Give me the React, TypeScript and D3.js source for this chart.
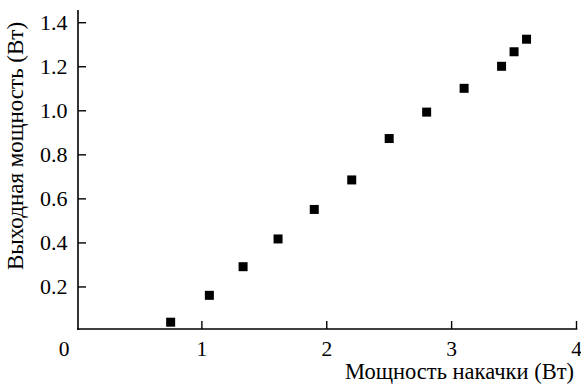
import React, { useEffect, useRef } from 'react';
import * as d3 from 'd3';

// pump power (W) and output power (W)
const pumpPower = [0.75, 1.06, 1.33, 1.61, 1.9, 2.2, 2.5, 2.8, 3.1, 3.4, 3.5, 3.6];
const outputPower = [0.04, 0.162, 0.292, 0.418, 0.552, 0.686, 0.874, 0.994, 1.102, 1.202, 1.268, 1.325];
const xTicks = [1, 2, 3, 4];
const yTicks = [0.2, 0.4, 0.6, 0.8, 1.0, 1.2, 1.4];

const width = 581;
const height = 385;

function App() {
    const ref = useRef<SVGSVGElement>(null);

    useEffect(() => {
        const svg = d3.select(ref.current);
        svg.selectAll('*').remove();

        const font = '"Liberation Serif", "Times New Roman", serif';

        // scales
        const x = d3.scaleLinear().domain([0, 4]).range([77, 576.5]);
        const y = d3.scaleLinear().domain([0, 1.4]).range([331, 22.7]);

        const left = 78;
        const bottom = 329;
        const top = 10;

        const g = svg.append('g');

        // axis lines
        g.append('line')
            .attr('x1', left).attr('x2', left)
            .attr('y1', top).attr('y2', bottom + 1)
            .attr('stroke', '#000').attr('stroke-width', 1.6);
        g.append('line')
            .attr('x1', left - 0.8).attr('x2', x(4) + 0.8)
            .attr('y1', bottom).attr('y2', bottom)
            .attr('stroke', '#000').attr('stroke-width', 1.6);

        // y ticks (inside)
        g.selectAll('.ytick')
            .data(yTicks)
            .enter()
            .append('line')
            .attr('x1', left).attr('x2', left + 8)
            .attr('y1', (d) => y(d)).attr('y2', (d) => y(d))
            .attr('stroke', '#000').attr('stroke-width', 1.4);

        g.selectAll('.ylab')
            .data(yTicks)
            .enter()
            .append('text')
            .attr('x', 67.5)
            .attr('y', (d) => y(d) + 7.5)
            .attr('text-anchor', 'end')
            .style('font-family', font)
            .style('font-size', '22px')
            .text((d) => d.toFixed(1));

        // x ticks (inside)
        g.selectAll('.xtick')
            .data(xTicks)
            .enter()
            .append('line')
            .attr('x1', (d) => x(d)).attr('x2', (d) => x(d))
            .attr('y1', bottom).attr('y2', bottom - 8)
            .attr('stroke', '#000').attr('stroke-width', 1.4);

        g.selectAll('.xlab')
            .data(xTicks)
            .enter()
            .append('text')
            .attr('x', (d) => x(d))
            .attr('y', 355.5)
            .attr('text-anchor', 'middle')
            .style('font-family', font)
            .style('font-size', '21.5px')
            .text((d) => d);

        // corner zero
        g.append('text')
            .attr('x', 64)
            .attr('y', 355.5)
            .attr('text-anchor', 'middle')
            .style('font-family', font)
            .style('font-size', '21.5px')
            .text('0');

        // axis titles
        g.append('text')
            .attr('x', 574)
            .attr('y', 379)
            .attr('text-anchor', 'end')
            .style('font-family', font)
            .style('font-size', '22.5px')
            .text('Мощность накачки (Вт)');

        g.append('text')
            .attr('transform', 'translate(23, 146) rotate(-90)')
            .attr('text-anchor', 'middle')
            .style('font-family', font)
            .style('font-size', '23px')
            .text('Выходная мощность (Вт)');

        // data squares
        const size = 9;
        g.selectAll('.pt')
            .data(pumpPower.map((p, i) => [p, outputPower[i]]))
            .enter()
            .append('rect')
            .attr('x', (d) => x(d[0]) - size / 2)
            .attr('y', (d) => y(d[1]) - size / 2)
            .attr('width', size)
            .attr('height', size)
            .attr('fill', '#000');
    }, []);

    return (
        <svg
            ref={ref}
            width={width}
            height={height}
            style={{ position: 'absolute', left: 0, top: 0, background: '#fff' }}
        />
    );
}

export default App;
